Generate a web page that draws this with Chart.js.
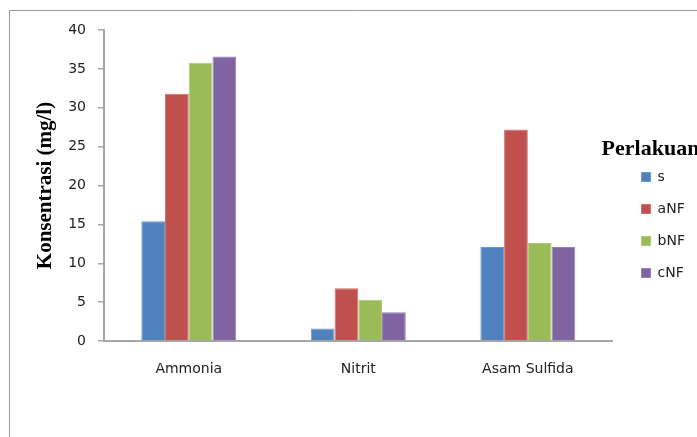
<!DOCTYPE html>
<html>
<head>
<meta charset="utf-8">
<script src="https://cdn.jsdelivr.net/npm/chart.js@4/dist/chart.umd.min.js"></script>
<style>
  html, body { margin: 0; padding: 0; background: #fff; }
  #wrap { width: 697px; height: 437px; position: relative; }
</style>
</head>
<body>
<div id="wrap"><canvas id="c" width="697" height="437"></canvas></div>
<script>
// Parameters measured per treatment
const categories = ['Ammonia', 'Nitrit', 'Asam Sulfida'];
const seriesNames = ['s', 'aNF', 'bNF', 'cNF'];
const valuesS   = [15.4, 1.6, 12.1];
const valuesANF = [31.8, 6.8, 27.2];
const valuesBNF = [35.8, 5.3, 12.6];
const valuesCNF = [36.6, 3.7, 12.1];
const yTicks = [0, 5, 10, 15, 20, 25, 30, 35, 40];
const legendHeading = 'Perlakuan';

const fills   = ['#4F81BD', '#C0504D', '#9BBB59', '#8064A2'];
const edges   = ['#6E97CB', '#CC6F6C', '#AEC877', '#9680B5'];
const seriesValues = [valuesS, valuesANF, valuesBNF, valuesCNF];

const sansFont = 'DejaVu Sans';
const serifFont = 'Liberation Serif';

// Outer frame of the chart object
const framePlugin = {
  id: 'frame',
  beforeDraw(chart) {
    const ctx = chart.ctx;
    ctx.save();
    ctx.strokeStyle = '#9a9a9a';
    ctx.lineWidth = 1;
    ctx.beginPath();
    ctx.moveTo(9.5, chart.height + 2);
    ctx.lineTo(9.5, 10.5);
    ctx.lineTo(chart.width + 2, 10.5);
    ctx.stroke();
    ctx.restore();
  }
};

// Legend heading, drawn above the legend entries without being clipped to the legend box
const legendHeadingPlugin = {
  id: 'legendHeading',
  afterDraw(chart) {
    const lg = chart.legend;
    if (!lg || !lg.legendHitBoxes || !lg.legendHitBoxes.length) return;
    const first = lg.legendHitBoxes[0];
    const ctx = chart.ctx;
    ctx.save();
    ctx.font = 'bold 22px "' + serifFont + '"';
    ctx.fillStyle = '#000';
    ctx.textAlign = 'left';
    ctx.textBaseline = 'alphabetic';
    ctx.fillText(legendHeading, first.left - 40, first.top - 15);
    ctx.restore();
  }
};

new Chart(document.getElementById('c'), {
  type: 'bar',
  data: {
    labels: categories,
    datasets: seriesNames.map((name, i) => ({
      label: name,
      data: seriesValues[i],
      backgroundColor: fills[i],
      borderColor: edges[i],
      borderWidth: 1,
      categoryPercentage: 0.56,
      barPercentage: 1.0
    }))
  },
  options: {
    responsive: false,
    animation: false,
    devicePixelRatio: 1,
    layout: { padding: { left: 33, top: 30, right: 2, bottom: 17 } },
    plugins: {
      tooltip: { enabled: false },
      legend: {
        position: 'right',
        align: 'center',
        labels: {
          boxWidth: 9,
          boxHeight: 9,
          padding: 18,
          color: '#222',
          font: { family: sansFont, size: 14 }
        }
      }
    },
    scales: {
      x: {
        afterFit(scale) { scale.height = 79; },
        grid: { display: false, drawTicks: false },
        border: { display: true, color: '#a6a6a6', width: 2 },
        ticks: { color: '#222', font: { family: sansFont, size: 14 }, padding: 20 }
      },
      y: {
        min: 0,
        max: 40,
        afterBuildTicks(scale) { scale.ticks = yTicks.map(v => ({ value: v })); },
        afterFit(scale) { scale.width = 71; },
        grid: { drawOnChartArea: false, drawTicks: true, tickLength: 6, color: '#a6a6a6', lineWidth: 1.5 },
        border: { display: true, color: '#a6a6a6', width: 2 },
        ticks: { color: '#222', font: { family: sansFont, size: 14 }, padding: 12 },
        title: {
          display: true,
          text: 'Konsentrasi (mg/l)',
          color: '#000',
          font: { family: serifFont, size: 21, weight: 'bold' },
          padding: { top: 0, bottom: 0 }
        }
      },
      gap: {
        position: 'right',
        display: true,
        grid: { display: false, drawTicks: false },
        border: { display: false },
        ticks: { display: false },
        afterFit(scale) { scale.width = 11; }
      }
    }
  },
  plugins: [framePlugin, legendHeadingPlugin]
});
</script>
</body>
</html>
